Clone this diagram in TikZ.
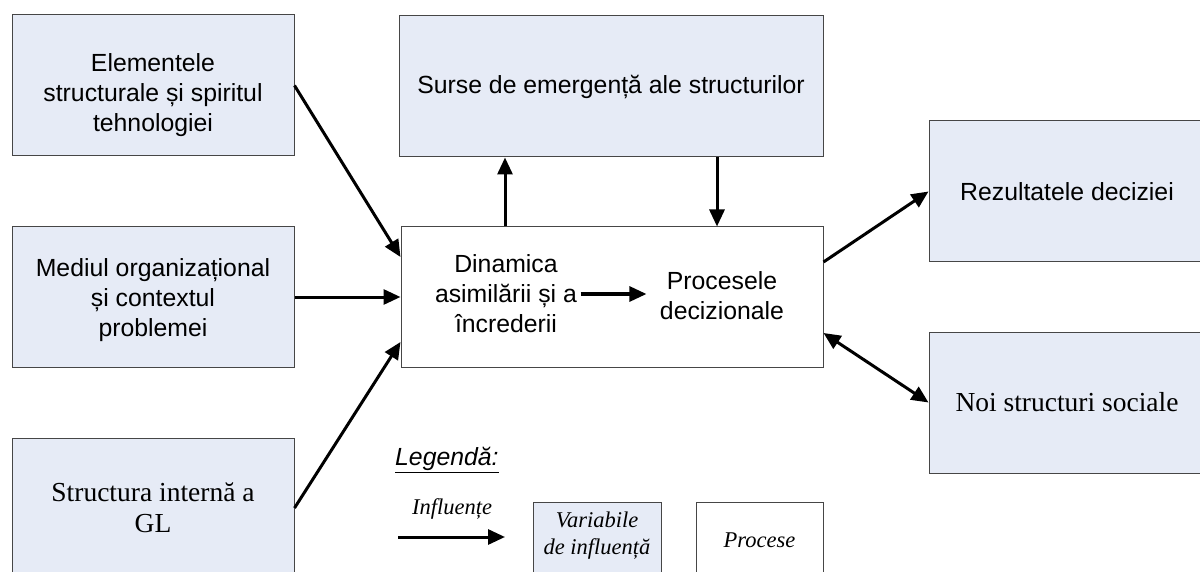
\documentclass[tikz,border=0pt]{standalone}
\usepackage{fontspec}
\setmainfont{Liberation Serif}
\setsansfont{Liberation Sans}
\usetikzlibrary{arrows.meta,calc}
\definecolor{varfill}{RGB}{230,235,246}
\definecolor{boxline}{RGB}{70,70,70}
\tikzset{
  sanstxt/.style={font=\sffamily\fontsize{24.8}{30}\selectfont, align=center},
  seriftxt/.style={font=\rmfamily\fontsize{27.5}{31}\selectfont, align=center},
  legtxt/.style={font=\rmfamily\itshape\fontsize{22.5}{27}\selectfont, align=center},
  varbox/.style={draw=boxline, line width=1pt, fill=varfill, inner sep=0pt},
  procbox/.style={draw=boxline, line width=1pt, fill=white, inner sep=0pt},
  tip/.tip={Triangle[length=17pt,width=15pt]},
  arr/.style={line width=3pt, -tip},
  darr/.style={line width=3pt, tip-tip},
}
\begin{document}
\begin{tikzpicture}[x=1pt,y=-1pt]
\useasboundingbox (0,0) rectangle (1200,572);
\clip (0,0) rectangle (1200,572);
\fill[white] (0,0) rectangle (1200,572);

% influence variables
\node[varbox, minimum width=282pt, minimum height=141pt] (b1) at (153,85.5) {};
\node[sanstxt] (b1t) at (153,95) {Elementele\\structurale și spiritul\\tehnologiei};
\node[varbox, minimum width=282pt, minimum height=140pt] (b2) at (153,297) {};
\node[sanstxt] (b2t) at (153,300) {Mediul organizațional\\și contextul\\problemei};
\node[varbox, minimum width=282pt, minimum height=140pt, seriftxt] (b3) at (153,508)
  {Structura internă a\\GL};
\node[varbox, minimum width=424pt, minimum height=141pt, sanstxt] (top) at (611,86.5)
  {Surse de emergență ale structurilor};
\node[varbox, minimum width=276pt, minimum height=141pt, sanstxt] (rez) at (1067,191.5)
  {Rezultatele deciziei};
\node[varbox, minimum width=276pt, minimum height=141pt, seriftxt] (noi) at (1067,402.5)
  {Noi structuri sociale};

% process box
\node[procbox, minimum width=422pt, minimum height=140pt] (mid) at (612,297) {};
\node[sanstxt] (dyn) at (506,294) {Dinamica\\asimilării și a\\încrederii};
\node[sanstxt] (procs) at (722,296) {Procesele\\decizionale};

% influences
\draw[arr] (b1.east) -- ([yshift=40pt]mid.west);
\draw[arr] (b2.east) -- (mid.west);
\draw[arr] (b3.east) -- ([yshift=-45pt]mid.west);
\draw[arr] ($(mid.north)+(-107,0)$) -- ($(top.south)+(-106,0)$);
\draw[arr] ($(top.south)+(106,0)$) -- ($(mid.north)+(105,0)$);
\draw[arr] (dyn.east) -- ($(dyn.east -| procs.west)+(-10,0)$);
\draw[arr] ([yshift=35pt]mid.east) -- (rez.west);
\draw[darr] ([yshift=-36pt]mid.east) -- (noi.west);

% legend
\node[anchor=west, inner sep=0pt, font=\sffamily\itshape\fontsize{24.8}{30}\selectfont] (leg) at (395,460) {\underline{Legendă:}};
\node[legtxt] (infl) at (452,509) {Influențe};
\coordinate (la) at (398,537);
\coordinate (lb) at (505,537);
\draw[arr] (la) -- (lb);
\node[varbox, minimum width=128pt, minimum height=76pt] (lvar) at (597,540) {};
\node[legtxt] (lvart) at (597,536) {Variabile\\de influență};
\node[procbox, minimum width=127pt, minimum height=76pt, legtxt] (lproc) at (759.5,540) {Procese};
\end{tikzpicture}
\end{document}
